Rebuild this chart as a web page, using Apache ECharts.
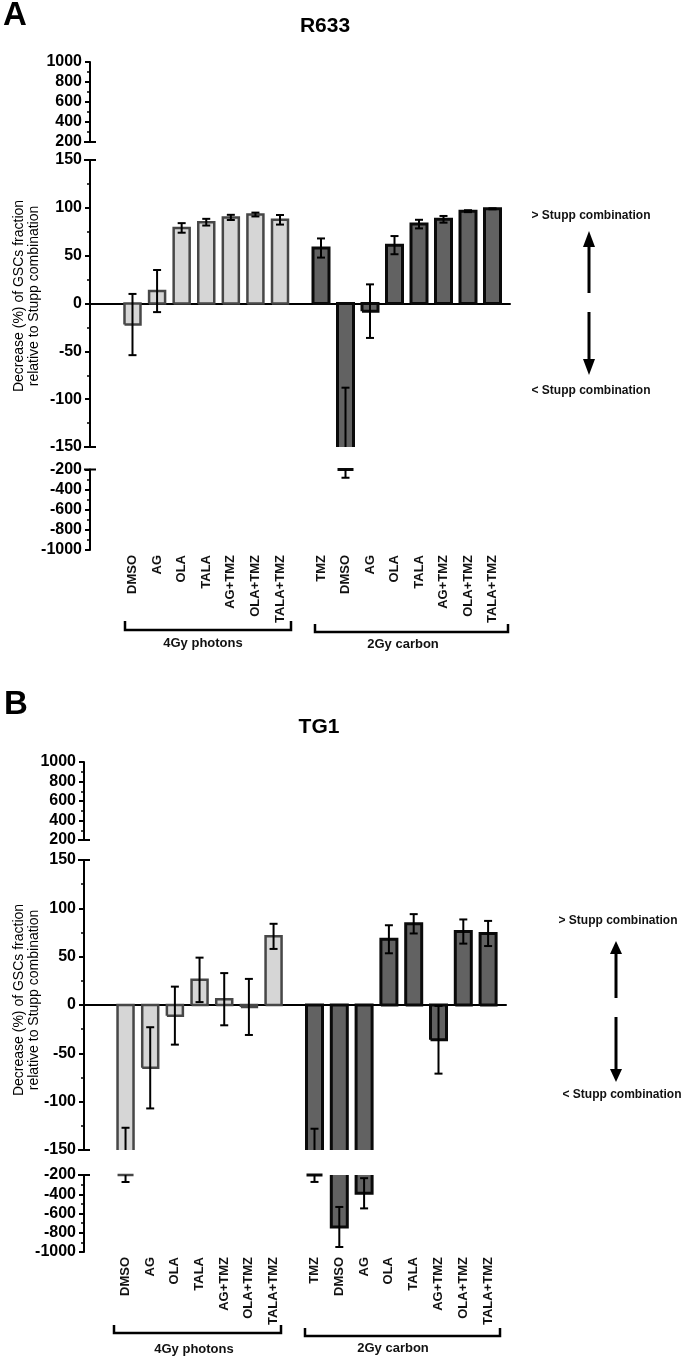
<!DOCTYPE html>
<html>
<head>
<meta charset="utf-8">
<script src="https://cdn.jsdelivr.net/npm/echarts@6.0.0/dist/echarts.min.js"></script>
<style>
html,body{margin:0;padding:0;background:#fff;}
#chart{width:685px;height:1358px;}
</style>
</head>
<body>
<div id="chart"></div>
<script>
// ---------------- data ----------------
const photonCategories = ['DMSO', 'AG', 'OLA', 'TALA', 'AG+TMZ', 'OLA+TMZ', 'TALA+TMZ'];
const carbonCategories = ['TMZ', 'DMSO', 'AG', 'OLA', 'TALA', 'AG+TMZ', 'OLA+TMZ', 'TALA+TMZ'];

const r633PhotonMean = [-22, 13, 79, 85, 90, 93, 87.5];
const r633PhotonErr  = [32, 22, 5, 3.5, 2.7, 2, 5];
const r633CarbonMean = [58, -185, -8, 61, 83, 88, 96.5, 99];
const r633CarbonErr  = [10, 97, 28, 9.5, 4.5, 3.5, 1, 0.5];

const tg1PhotonMean = [-200, -65, -11, 26, 6, -2, 71];
const tg1PhotonErr  = [73, 42, 30, 23, 27, 29, 13];
const tg1CarbonMean = [-200, -740, -390, 68, 84, -36, 76, 74];
const tg1CarbonErr  = [72, 208, 157, 14.5, 10, 35, 12.5, 13];

// axis segments (broken y axis): upper, middle, lower
const upperRange = [200, 1000];
const middleRange = [-150, 150];
const lowerRange = [-1000, -200];
const segRanges = [upperRange, middleRange, lowerRange];
const segIntervals = [200, 50, 200];

const groupLabels = ['4Gy photons', '2Gy carbon'];
const panelTitles = ['R633', 'TG1'];
const panelLetters = ['A', 'B'];
const yTitle = 'Decrease (%) of GSCs fraction\nrelative to Stupp combination';
const moreText = '> Stupp combination';
const lessText = '< Stupp combination';

// ---------------- layout ----------------
const FONT = '"Liberation Sans", Arial, Helvetica, sans-serif';
const BAR_W = 16;
const photonStyle = { fill: '#d6d6d6', stroke: '#474747', lw: 2.5 };
const carbonStyle = { fill: '#626262', stroke: '#0a0a0a', lw: 3 };

const panels = [
  {
    frame: { left: 90, right: 175 },
    segs: [{ top: 62, height: 80 }, { top: 160, height: 287 }, { top: 469.5, height: 80.5 }],
    groups: [
      { left: 120.2, width: 172.1, cats: photonCategories, mean: r633PhotonMean, err: r633PhotonErr, st: photonStyle },
      { left: 308.75, width: 196, cats: carbonCategories, mean: r633CarbonMean, err: r633CarbonErr, st: carbonStyle }
    ],
    letter: { x: 3, y: 16 }, title: { x: 325, y: 26 }, ytitle: { x: 27, y: 296 },
    brackets: [{ x1: 125, x2: 291, y: 630, tip: 621, lx: 203, ly: 643 }, { x1: 315, x2: 508, y: 632, tip: 624, lx: 403, ly: 644 }],
    arrow: { x: 589, upTip: 231, upBase: 293, downTop: 312, downTip: 375, head: 16 },
    more: { x: 591, y: 216 }, less: { x: 591, y: 391 }
  },
  {
    frame: { left: 84, right: 179 },
    segs: [{ top: 762, height: 78 }, { top: 860, height: 290 }, { top: 1175, height: 77 }],
    groups: [
      { left: 113.2, width: 172.7, cats: photonCategories, mean: tg1PhotonMean, err: tg1PhotonErr, st: photonStyle },
      { left: 302.1, width: 198.4, cats: carbonCategories, mean: tg1CarbonMean, err: tg1CarbonErr, st: carbonStyle }
    ],
    letter: { x: 4, y: 705 }, title: { x: 319, y: 727 }, ytitle: { x: 27, y: 1000 },
    brackets: [{ x1: 114, x2: 281, y: 1333, tip: 1325, lx: 194, ly: 1349 }, { x1: 305, x2: 500, y: 1336, tip: 1328, lx: 393, ly: 1348 }],
    arrow: { x: 616, upTip: 941, upBase: 998, downTop: 1017, downTip: 1082, head: 13 },
    more: { x: 618, y: 921 }, less: { x: 622, y: 1095 }
  }
];

// ---------------- renderers ----------------
function capRenderer(si, mn, mx) {
  return function (params, api) {
    const vals = si === 0 ? [mn] : (si === 1 ? [mn, mx] : [mx]);
    return {
      type: 'group',
      children: vals.map(function (val) {
        const p = api.coord([0, val]);
        return { type: 'line', shape: { x1: p[0] - 6, y1: p[1], x2: p[0] + 6, y2: p[1] },
                 style: { stroke: '#000', lineWidth: 2 } };
      })
    };
  };
}

function barRenderer(st, si, mn, mx) {
  return function (params, api) {
    const i = api.value(0), v = api.value(1), e = api.value(2);
    const x = api.coord([i, mn])[0];
    const yOf = function (val) { return api.coord([i, val])[1]; };
    const hw = BAR_W / 2;
    const children = [];
    const lo = Math.min(0, v), hi = Math.max(0, v);
    let top = null, bot = null, drawTop = false, drawBot = false;
    if (si === 1) {
      const a = Math.max(lo, mn), b = Math.min(hi, mx);
      if (b > a) { bot = a; top = b; drawBot = lo >= mn; drawTop = hi <= mx; }
    } else if (mx < 0) {
      if (lo < middleRange[0]) { top = mx; bot = Math.min(mx, Math.max(lo, mn)); drawBot = lo >= mn; }
    } else {
      if (hi > middleRange[1]) { bot = mn; top = Math.max(mn, Math.min(hi, mx)); drawTop = hi <= mx; }
    }
    if (top !== null) {
      const yt = yOf(top), yb = yOf(bot);
      children.push({ type: 'rect', shape: { x: x - hw, y: yt, width: BAR_W, height: yb - yt },
                      style: { fill: st.fill } });
      let pts;
      if (drawTop && drawBot) {
        pts = [[x - hw, yb], [x - hw, yt], [x + hw, yt], [x + hw, yb], [x - hw, yb]];
      } else if (drawTop) {
        pts = [[x - hw, yb], [x - hw, yt], [x + hw, yt], [x + hw, yb]];
      } else if (drawBot) {
        pts = [[x - hw, yt], [x - hw, yb], [x + hw, yb], [x + hw, yt]];
      } else {
        children.push({ type: 'line', shape: { x1: x - hw, y1: yt, x2: x - hw, y2: yb }, style: { stroke: st.stroke, lineWidth: st.lw } });
        children.push({ type: 'line', shape: { x1: x + hw, y1: yt, x2: x + hw, y2: yb }, style: { stroke: st.stroke, lineWidth: st.lw } });
      }
      if (pts) {
        children.push({ type: 'polyline', shape: { points: pts },
                        style: { stroke: st.stroke, lineWidth: st.lw, fill: null, lineJoin: 'miter' } });
      }
    }
    // error bar
    const eLo = v - e, eHi = v + e;
    const a = Math.max(eLo, mn), b = Math.min(eHi, mx);
    if (b >= a) {
      const es = { stroke: '#000', lineWidth: 2 };
      children.push({ type: 'line', shape: { x1: x, y1: yOf(a), x2: x, y2: yOf(b) }, style: es });
      [eLo, eHi].forEach(function (ev) {
        if (ev >= mn && ev <= mx) {
          const yy = yOf(ev);
          children.push({ type: 'line', shape: { x1: x - 4, y1: yy, x2: x + 4, y2: yy }, style: es });
        }
      });
    }
    return { type: 'group', children: children };
  };
}

// ---------------- build option ----------------
const grids = [], xAxes = [], yAxes = [], series = [], graphics = [];

panels.forEach(function (p, pi) {
  p.segs.forEach(function (s, si) {
    const mn = segRanges[si][0], mx = segRanges[si][1];
    // frame grid with the visible y axis
    let gi = grids.length;
    grids.push({ left: p.frame.left, right: p.frame.right, top: s.top, height: s.height });
    let xi = xAxes.length;
    xAxes.push({
      gridIndex: gi, type: 'value', min: 0, max: 1, show: si === 1,
      axisLine: { show: si === 1, onZero: true, lineStyle: { color: '#000', width: 2 } },
      axisTick: { show: false }, axisLabel: { show: false }, splitLine: { show: false }
    });
    let yi = yAxes.length;
    yAxes.push({
      gridIndex: gi, type: 'value', min: mn, max: mx, interval: segIntervals[si],
      axisLine: { show: true, onZero: false, lineStyle: { color: '#000', width: 2 } },
      axisTick: { show: true, length: 5, lineStyle: { color: '#000', width: 2 } },
      minorTick: { show: true, splitNumber: 2, length: 3, lineStyle: { color: '#000', width: 1.5 } },
      axisLabel: { fontFamily: FONT, fontWeight: 'bold', fontSize: 16, color: '#000', margin: 8,
                   formatter: function (val) { return String(val); } },
      splitLine: { show: false }, minorSplitLine: { show: false }
    });
    series.push({ type: 'custom', xAxisIndex: xi, yAxisIndex: yi, data: [[0, 0]], silent: true, z: 5,
                  renderItem: capRenderer(si, mn, mx) });

    // bar groups
    p.groups.forEach(function (g) {
      gi = grids.length;
      grids.push({ left: g.left, width: g.width, top: s.top, height: s.height });
      xi = xAxes.length;
      xAxes.push({
        gridIndex: gi, type: 'category', data: g.cats, boundaryGap: true, show: si === 2,
        axisLine: { show: false }, axisTick: { show: false },
        axisLabel: { show: si === 2, rotate: 90, interval: 0, margin: 5, fontFamily: FONT,
                     fontWeight: 'bold', fontSize: 13, color: '#111' }
      });
      yi = yAxes.length;
      yAxes.push({ gridIndex: gi, type: 'value', min: mn, max: mx, show: false, splitLine: { show: false } });
      series.push({
        type: 'custom', xAxisIndex: xi, yAxisIndex: yi, silent: true, z: 3,
        data: g.mean.map(function (m, k) { return [k, m, g.err[k]]; }),
        renderItem: barRenderer(g.st, si, mn, mx)
      });
    });
  });

  // texts & decorations
  graphics.push({ type: 'text', x: p.letter.x, y: p.letter.y,
    style: { text: panelLetters[pi], font: 'bold 33px ' + FONT, fill: '#000', align: 'left', verticalAlign: 'middle' } });
  graphics.push({ type: 'text', x: p.title.x, y: p.title.y,
    style: { text: panelTitles[pi], font: 'bold 21px ' + FONT, fill: '#000', align: 'center', verticalAlign: 'middle' } });
  graphics.push({ type: 'text', x: p.ytitle.x, y: p.ytitle.y, rotation: Math.PI / 2,
    style: { text: yTitle, font: '14px ' + FONT, lineHeight: 15, fill: '#000', align: 'center', verticalAlign: 'middle' } });
  p.brackets.forEach(function (b, bi) {
    graphics.push({ type: 'polyline', shape: { points: [[b.x1, b.tip], [b.x1, b.y], [b.x2, b.y], [b.x2, b.tip]] },
      style: { stroke: '#000', lineWidth: 2.5, fill: null } });
    graphics.push({ type: 'text', x: b.lx, y: b.ly,
      style: { text: groupLabels[bi], font: 'bold 13px ' + FONT, fill: '#111', align: 'center', verticalAlign: 'middle' } });
  });
  const ar = p.arrow;
  graphics.push({ type: 'line', shape: { x1: ar.x, y1: ar.upBase, x2: ar.x, y2: ar.upTip + ar.head - 1 }, style: { stroke: '#000', lineWidth: 3 } });
  graphics.push({ type: 'polygon', shape: { points: [[ar.x - 6, ar.upTip + ar.head], [ar.x + 6, ar.upTip + ar.head], [ar.x, ar.upTip]] }, style: { fill: '#000' } });
  graphics.push({ type: 'line', shape: { x1: ar.x, y1: ar.downTop, x2: ar.x, y2: ar.downTip - ar.head + 1 }, style: { stroke: '#000', lineWidth: 3 } });
  graphics.push({ type: 'polygon', shape: { points: [[ar.x - 6, ar.downTip - ar.head], [ar.x + 6, ar.downTip - ar.head], [ar.x, ar.downTip]] }, style: { fill: '#000' } });
  graphics.push({ type: 'text', x: p.more.x, y: p.more.y,
    style: { text: moreText, font: 'bold 12px ' + FONT, fill: '#111', align: 'center', verticalAlign: 'middle' } });
  graphics.push({ type: 'text', x: p.less.x, y: p.less.y,
    style: { text: lessText, font: 'bold 12px ' + FONT, fill: '#111', align: 'center', verticalAlign: 'middle' } });
});

const chart = echarts.init(document.getElementById('chart'), null, { renderer: 'canvas' });
chart.setOption({
  backgroundColor: '#ffffff',
  animation: false,
  grid: grids,
  xAxis: xAxes,
  yAxis: yAxes,
  series: series,
  graphic: graphics
});
</script>
</body>
</html>
